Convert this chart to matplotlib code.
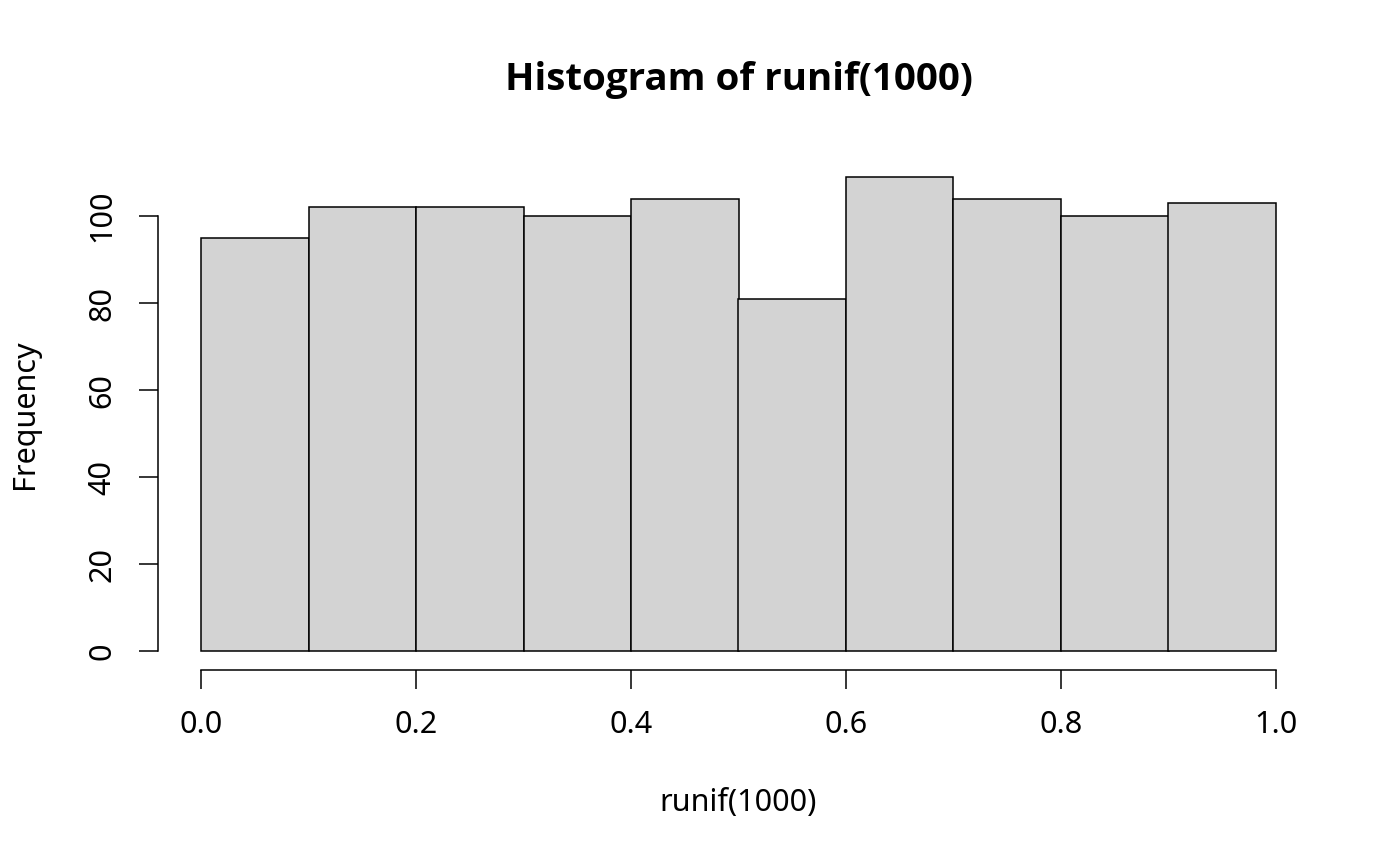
import numpy as np
import matplotlib
matplotlib.use("Agg")
import matplotlib.pyplot as plt
from matplotlib import font_manager

plt.rcParams['font.family'] = ['Noto Sans', 'DejaVu Sans']

# histogram of runif(1000): bin edges and counts
bin_edges = [0.0, 0.1, 0.2, 0.3, 0.4, 0.5, 0.6, 0.7, 0.8, 0.9, 1.0]
counts = [95, 102, 102, 100, 104, 81, 109, 104, 100, 103]
x_ticks = [0.0, 0.2, 0.4, 0.6, 0.8, 1.0]
x_tick_labels = ["0.0", "0.2", "0.4", "0.6", "0.8", "1.0"]
y_ticks = [0, 20, 40, 60, 80, 100]

# pick a family that really has a bold face for the title
bold_family = 'DejaVu Sans'
for fam in ['Noto Sans', 'Open Sans', 'Lato', 'Roboto']:
    path = font_manager.findfont(font_manager.FontProperties(family=fam, weight='bold'),
                                 fallback_to_default=False)
    if 'bold' in path.lower() and fam.replace(' ', '').lower() in path.replace(' ', '').lower():
        bold_family = fam
        break

fig = plt.figure(figsize=(14, 8.66), dpi=100)
ax = fig.add_axes([158 / 1400, 1 - 670 / 866, (1319 - 158) / 1400, (670 - 158) / 866])

edges = np.array(bin_edges)
ax.bar(edges[:-1], counts, width=np.diff(edges), align='edge',
       color='#d3d3d3', edgecolor='black', linewidth=1.1)

# R style axis limits (4% padding)
ax.set_xlim(-0.04, 1.04)
ymax = max(counts)
ax.set_ylim(-0.04 * ymax, 1.04 * ymax)

for s in ['top', 'right']:
    ax.spines[s].set_visible(False)
ax.spines['left'].set_bounds(0, 100)
ax.spines['bottom'].set_bounds(0, 1)
ax.spines['left'].set_linewidth(1.1)
ax.spines['bottom'].set_linewidth(1.1)

ax.set_xticks(x_ticks)
ax.set_xticklabels(x_tick_labels)
ax.set_yticks(y_ticks)
ax.set_yticklabels([str(v) for v in y_ticks], rotation=90, va='center')
ax.tick_params(axis='both', length=13.5, width=1.1, labelsize=22)
ax.tick_params(axis='x', pad=15)
ax.tick_params(axis='y', pad=16)

cx = (158 + 1319) / 2 / 1400
fig.text(cx, 1 - 80 / 866, "Histogram of runif(1000)", family=[bold_family, 'DejaVu Sans'],
         fontsize=27.7, fontweight='bold', ha='center', va='center')
fig.text(cx, 1 - 803 / 866, "runif(1000)", fontsize=22, ha='center', va='center')
fig.text(25 / 1400, 1 - 414 / 866, "Frequency",
         fontsize=22, ha='center', va='center', rotation=90)

fig.savefig("out.png", dpi=100, facecolor='white')
